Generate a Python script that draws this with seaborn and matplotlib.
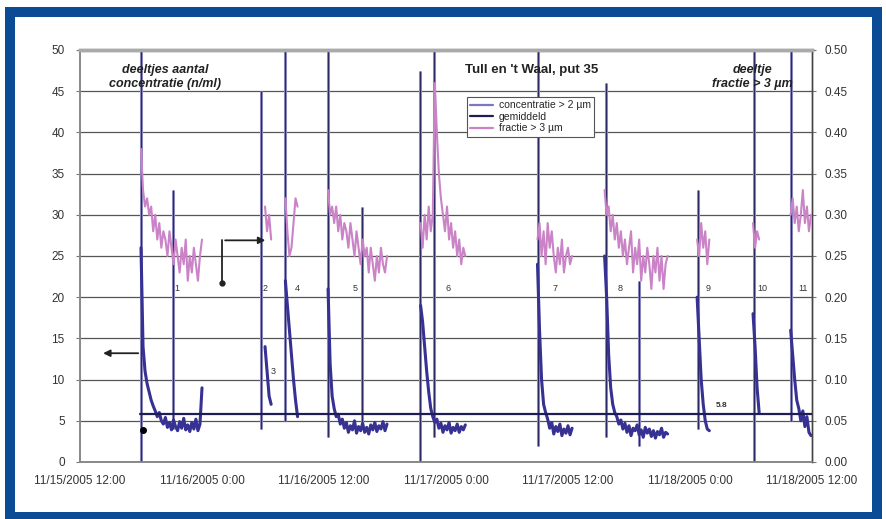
import matplotlib

matplotlib.use('Agg')
import matplotlib.pyplot as plt
import numpy as np
import pandas as pd
import seaborn as sns
from matplotlib.lines import Line2D
from matplotlib.patches import Rectangle

sns.set_theme(style='white')
plt.rcParams['font.family'] = ['Liberation Sans', 'DejaVu Sans']

# hours since 11/15/2005 12:00, sampled every STEP hours within an episode
STEP = 0.2
TICK_HOURS = [0, 12, 24, 36, 48, 60, 72]
TICK_LABELS = ['11/15/2005 12:00', '11/16/2005 0:00', '11/16/2005 12:00', '11/17/2005 0:00',
               '11/17/2005 12:00', '11/18/2005 0:00', '11/18/2005 12:00']

episode_start = [6.0, 18.2, 20.2, 24.4, 33.5, 45.0, 51.6, 60.7, 66.2, 69.9]

conc = [
    [26, 14, 11, 9.5, 8.5, 7.5, 6.8, 6.2, 5.5, 6.0, 5.0, 4.6, 5.4, 4.2, 4.8, 3.9, 5.1, 4.3, 3.8, 4.9,
     4.1, 5.3, 3.9, 4.5, 3.7, 4.8, 4.0, 5.2, 3.8, 4.6, 9.0],
    [14, 11, 8, 7],
    [22, 19, 16, 13, 10, 7.5, 5.5],
    [21, 12, 8, 6.5, 5.5, 5.8, 4.6, 5.2, 4.1, 4.8, 3.6, 4.4, 3.9, 5.0, 3.5, 4.3, 3.8, 4.7, 3.6, 4.2,
     3.4, 4.5, 3.9, 4.8, 3.7, 4.4, 4.0, 4.9, 3.8, 4.6],
    [19, 17, 14, 11, 8.5, 6.5, 5.5, 4.8, 5.2, 4.1, 4.7, 3.6, 4.4, 3.9, 4.8, 3.5, 4.2, 3.8, 4.6, 3.6,
     4.3, 3.9, 4.5],
    [24, 16, 10, 7, 6, 5.2, 4.1, 4.8, 3.4, 4.3, 3.7, 4.6, 3.2, 4.0, 3.5, 4.4, 3.3, 4.1],
    [25, 20, 13, 9, 7, 6, 5.5, 4.6, 5.1, 4.0, 4.7, 3.6, 4.4, 3.2, 4.1, 3.8, 4.5, 3.3, 3.9, 3.0,
     4.2, 3.5, 4.0, 3.1, 3.8, 2.9, 3.7, 3.3, 4.1, 3.0, 3.6, 3.4],
    [20, 15, 10, 7, 5, 4, 3.8],
    [18, 14, 9, 6],
    [16, 13, 10, 7.5, 6.5, 5.0, 6.2, 4.3, 5.5, 3.6, 3.2],
]

frac = [
    [0.38, 0.33, 0.31, 0.32, 0.30, 0.31, 0.28, 0.30, 0.27, 0.29, 0.26, 0.28, 0.27, 0.25, 0.28, 0.26,
     0.24, 0.27, 0.25, 0.23, 0.26, 0.24, 0.27, 0.22, 0.25, 0.23, 0.26, 0.24, 0.22, 0.25, 0.27],
    [0.31, 0.28, 0.30, 0.27],
    [0.32, 0.28, 0.25, 0.26, 0.29, 0.32, 0.31],
    [0.33, 0.30, 0.31, 0.29, 0.31, 0.28, 0.30, 0.27, 0.29, 0.28, 0.26, 0.29, 0.27, 0.25, 0.28, 0.26,
     0.24, 0.27, 0.25, 0.26, 0.23, 0.26, 0.24, 0.22, 0.25, 0.23, 0.26, 0.24, 0.23, 0.25],
    [0.29, 0.26, 0.30, 0.27, 0.31, 0.28, 0.30, 0.46, 0.40, 0.35, 0.32, 0.30, 0.28, 0.31, 0.27, 0.29,
     0.26, 0.28, 0.25, 0.27, 0.24, 0.26, 0.25],
    [0.27, 0.29, 0.25, 0.28, 0.24, 0.29, 0.26, 0.28, 0.25, 0.23, 0.26, 0.24, 0.27, 0.23, 0.25, 0.26,
     0.24, 0.25],
    [0.33, 0.30, 0.31, 0.28, 0.30, 0.27, 0.29, 0.26, 0.28, 0.25, 0.27, 0.24, 0.26, 0.28, 0.23, 0.26,
     0.24, 0.27, 0.22, 0.25, 0.23, 0.26, 0.24, 0.21, 0.25, 0.23, 0.26, 0.22, 0.25, 0.21, 0.24, 0.25],
    [0.27, 0.25, 0.29, 0.26, 0.28, 0.24, 0.27],
    [0.29, 0.26, 0.28, 0.27],
    [0.30, 0.32, 0.29, 0.31, 0.28, 0.30, 0.33, 0.29, 0.31, 0.28, 0.30],
]

# pump-start spikes in the concentration record
spike_hours = [6.0, 9.15, 17.8, 20.15, 24.4, 27.7, 33.4, 34.8, 45.0, 51.7, 55.0, 60.8, 66.3, 69.9]
spike_top = [50, 33, 45, 50, 50, 31, 47.5, 50, 50, 46, 22, 33, 50, 50]
spike_bottom = [0, 4, 4, 5, 3, 4, 0, 3, 2, 3, 2, 4, 0, 5]

mean_value = 5.8
mean_span = [5.9, 72]

episode_labels = ['1', '2', '3', '4', '5', '6', '7', '8', '9', '10', '11']
label_hours = [9.5, 18.2, 19.0, 21.4, 27.1, 36.2, 46.7, 53.1, 61.8, 67.1, 71.1]
label_values = [21, 21, 11, 21, 21, 21, 21, 21, 21, 21, 21]

NAVY = '#363192'
PINK = '#c983c6'
DARK = '#1e1d55'
GRID = '#555555'

rows_c, rows_f = [], []
for k, (t0, cv, fv) in enumerate(zip(episode_start, conc, frac)):
    for i, v in enumerate(cv):
        rows_c.append({'hour': t0 + i * STEP, 'value': v, 'episode': k})
    for i, v in enumerate(fv):
        rows_f.append({'hour': t0 + i * STEP, 'value': v, 'episode': k})
df_c = pd.DataFrame(rows_c)
df_f = pd.DataFrame(rows_f)

fig = plt.figure(figsize=(8.86, 5.19), dpi=100)
ax = fig.add_axes([80 / 886, 57 / 519, 732 / 886, 412 / 519])
ax2 = ax.twinx()

ax.vlines(spike_hours, spike_bottom, spike_top, color='#a09dcf', lw=2.2, zorder=2)
ax.vlines(spike_hours, spike_bottom, spike_top, color='#2b2963', lw=1.0, zorder=3)
sns.lineplot(data=df_c, x='hour', y='value', units='episode', estimator=None, sort=False,
             color=NAVY, lw=2.2, ax=ax, zorder=4)
ax.plot(mean_span, [mean_value, mean_value], color=DARK, lw=1.6, zorder=5)
ax.plot([6.2], [3.9], 'o', color='black', ms=4, zorder=6)

sns.lineplot(data=df_f, x='hour', y='value', units='episode', estimator=None, sort=False,
             color=PINK, lw=1.5, ax=ax2, zorder=4)

ax.set_xlim(0, 72)
ax.set_ylim(0, 50)
ax2.set_ylim(0, 0.5)
ax.set_yticks(np.arange(0, 51, 5))
ax2.set_yticks(np.arange(0, 0.51, 0.05))
ax2.set_yticklabels([f'{v:.2f}' for v in np.arange(0, 0.51, 0.05)])
ax.set_xticks(TICK_HOURS)
ax.set_xticklabels(TICK_LABELS)
ax.set_xlabel('')
ax.set_ylabel('')
ax2.set_xlabel('')
ax2.set_ylabel('')
ax.grid(axis='y', color=GRID, lw=0.9)
ax.grid(axis='x', visible=False)
ax2.grid(False)

for a in (ax, ax2):
    a.tick_params(axis='both', labelsize=8.5, labelcolor='#333333', length=3, width=0.8,
                  color='#777777', direction='out')
ax.tick_params(axis='x', pad=6)
ax.tick_params(axis='y', left=True, pad=8)
ax2.tick_params(axis='y', right=True, pad=6)
for a in (ax, ax2):
    for side in ('left', 'bottom'):
        a.spines[side].set_color('#888888')
        a.spines[side].set_linewidth(1.2)
    a.spines['top'].set_color('#aaaaaa')
    a.spines['top'].set_linewidth(2.5)
    a.spines['right'].set_color('#444444')
    a.spines['right'].set_linewidth(1.0)

for lab, h, v in zip(episode_labels, label_hours, label_values):
    ax.text(h, v, lab, fontsize=6.5, color='#333333', ha='center', va='center', zorder=7)
ax.text(63.1, 6.9, '5.8', fontsize=6, fontweight='bold', color='#333333', ha='center', va='center')

ax.text(8.4, 46.7, 'deeltjes aantal\nconcentratie (n/ml)', fontsize=9, fontweight='bold',
        fontstyle='italic', ha='center', va='center', color='#222222', zorder=7)
ax.text(37.9, 47.6, "Tull en 't Waal, put 35", fontsize=9.5, fontweight='bold',
        ha='left', va='center', color='#222222', zorder=7)
ax.text(66.1, 46.7, 'deeltje\nfractie > 3 µm', fontsize=9, fontweight='bold',
        fontstyle='italic', ha='center', va='center', color='#222222', zorder=7)

# arrows pointing to the axes
ax.annotate('', xy=(2.0, 13.2), xytext=(6.0, 13.2),
            arrowprops=dict(arrowstyle='-|>', color='#222222', lw=1.3, mutation_scale=10))
ax.plot([14.0, 14.0], [21.7, 26.9], color='#222222', lw=1.3)
ax.plot([14.0], [21.7], 'o', color='#222222', ms=3.5)
ax.annotate('', xy=(18.5, 26.9), xytext=(14.0, 26.9),
            arrowprops=dict(arrowstyle='-|>', color='#222222', lw=1.3, mutation_scale=10))

handles = [Line2D([], [], color='#7a76c0', lw=1.6),
           Line2D([], [], color=DARK, lw=1.6),
           Line2D([], [], color=PINK, lw=1.6)]
leg = ax2.legend(handles, ['concentratie > 2 µm', 'gemiddeld', 'fractie > 3 µm'],
                 loc='upper left', bbox_to_anchor=(0.522, 0.898), fontsize=7.5, frameon=True,
                 fancybox=False, framealpha=1, edgecolor='#555555', handlelength=2.2,
                 borderpad=0.3, labelspacing=0.15, handletextpad=0.5)
leg.get_frame().set_linewidth(0.8)
leg.set_zorder(10)

fig.patches.append(Rectangle((10 / 886, 2 / 519), 867 / 886, 505 / 519, transform=fig.transFigure,
                             fill=False, edgecolor='#0b4a94', lw=7.2, zorder=0))

fig.savefig('out.png', dpi=100)
